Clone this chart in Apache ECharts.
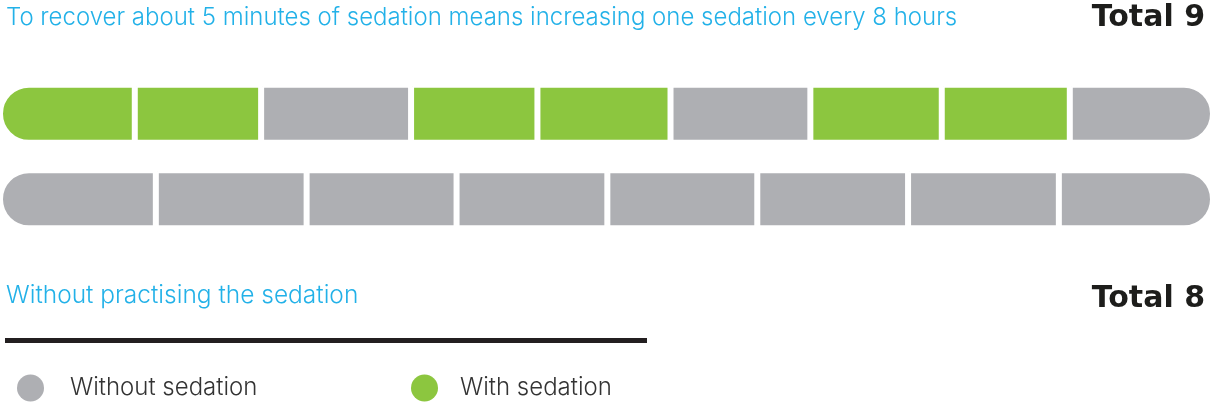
<!DOCTYPE html>
<html>
<head>
<meta charset="utf-8">
<style>
  html, body { margin: 0; padding: 0; background: #ffffff; }
  #chart { width: 1213px; height: 405px; }
</style>
<script src="https://cdn.jsdelivr.net/npm/echarts@6/dist/echarts.min.js"></script>
</head>
<body>
<div id="chart"></div>
<script>
// ---- Data ----
const rows = ['Practising the sedation', 'Without practising the sedation'];
const rowTotals = ['Total 9', 'Total 8'];
const headline = 'To recover about 5 minutes of sedation means increasing one sedation every 8 hours';
const subline = 'Without practising the sedation';
const legendNames = ['Without sedation', 'With sedation'];
// segment lengths (minutes) of the top row, and whether each one is with sedation
const topSegments = [80, 75, 89, 75, 79, 83, 78, 76, 85];
const topWithSedation = [true, true, false, true, true, false, true, true, false];
// bottom row: all without sedation
const bottomSegments = [92.5, 89.5, 89, 89.5, 89, 89.5, 89.5, 91.5];

const GREEN = '#8cc63f';
const GRAY = '#aeafb3';
const BLUE = '#22b1e8';
const R = 29;

const chart = echarts.init(document.getElementById('chart'), null, { renderer: 'canvas' });

const nSeg = Math.max(topSegments.length, bottomSegments.length);
const series = [];
for (let i = 0; i < nSeg; i++) {
  const mk = (val, color, isFirst, isLast) => {
    if (val == null) return '-';
    let rad = [0, 0, 0, 0];
    if (isFirst) rad = [R, 0, 0, R];
    if (isLast) rad = [0, R, R, 0];
    return { value: val, itemStyle: { color: color, borderRadius: rad } };
  };
  series.push({
    type: 'bar',
    stack: 'total',
    barWidth: 58,
    silent: true,
    itemStyle: { borderColor: '#ffffff', borderWidth: 3 },
    data: [
      mk(topSegments[i], topWithSedation[i] ? GREEN : GRAY, i === 0, i === topSegments.length - 1),
      mk(bottomSegments[i], GRAY, i === 0, i === bottomSegments.length - 1)
    ]
  });
}
// legend-only series
series.push({ name: legendNames[0], type: 'line', data: [], itemStyle: { color: GRAY }, lineStyle: { color: GRAY } });
series.push({ name: legendNames[1], type: 'line', data: [], itemStyle: { color: GREEN }, lineStyle: { color: GREEN } });

const total = topSegments.reduce((a, b) => a + b, 0);

const option = {
  backgroundColor: '#ffffff',
  animation: false,
  title: [
    { text: headline, left: 6, top: 6, padding: 0,
      textStyle: { color: BLUE, fontFamily: 'Inter', fontWeight: 300, fontSize: 24 } },
    { text: rowTotals[0], right: 8, top: 3, padding: 0,
      textStyle: { color: '#1d1d1b', fontFamily: 'DejaVu Sans', fontWeight: 'bold', fontSize: 30 } },
    { text: subline, left: 6, top: 283, padding: 0,
      textStyle: { color: BLUE, fontFamily: 'Inter', fontWeight: 300, fontSize: 24.5 } },
    { text: rowTotals[1], right: 8, top: 284, padding: 0,
      textStyle: { color: '#1d1d1b', fontFamily: 'DejaVu Sans', fontWeight: 'bold', fontSize: 30 } }
  ],
  legend: [
    { data: [legendNames[0]], left: 17, top: 374.5, padding: 0, itemWidth: 27, itemHeight: 27,
      icon: 'circle', selectedMode: false,
      textStyle: { color: '#333333', fontFamily: 'Inter', fontWeight: 300, fontSize: 24, padding: [0, 0, 0, 21] } },
    { data: [legendNames[1]], left: 411, top: 374.5, padding: 0, itemWidth: 27, itemHeight: 27,
      icon: 'circle', selectedMode: false,
      textStyle: { color: '#333333', fontFamily: 'Inter', fontWeight: 300, fontSize: 24, padding: [0, 0, 0, 17] } }
  ],
  grid: { left: -1, right: -1, top: 71, height: 171, containLabel: false },
  xAxis: { type: 'value', min: 0, max: total, show: false },
  yAxis: { type: 'category', data: rows, inverse: true, show: false },
  graphic: [
    { type: 'rect', left: 5, top: 338, shape: { width: 642, height: 5 }, style: { fill: '#231f20' }, silent: true }
  ],
  series: series
};
chart.setOption(option);
</script>
</body>
</html>
